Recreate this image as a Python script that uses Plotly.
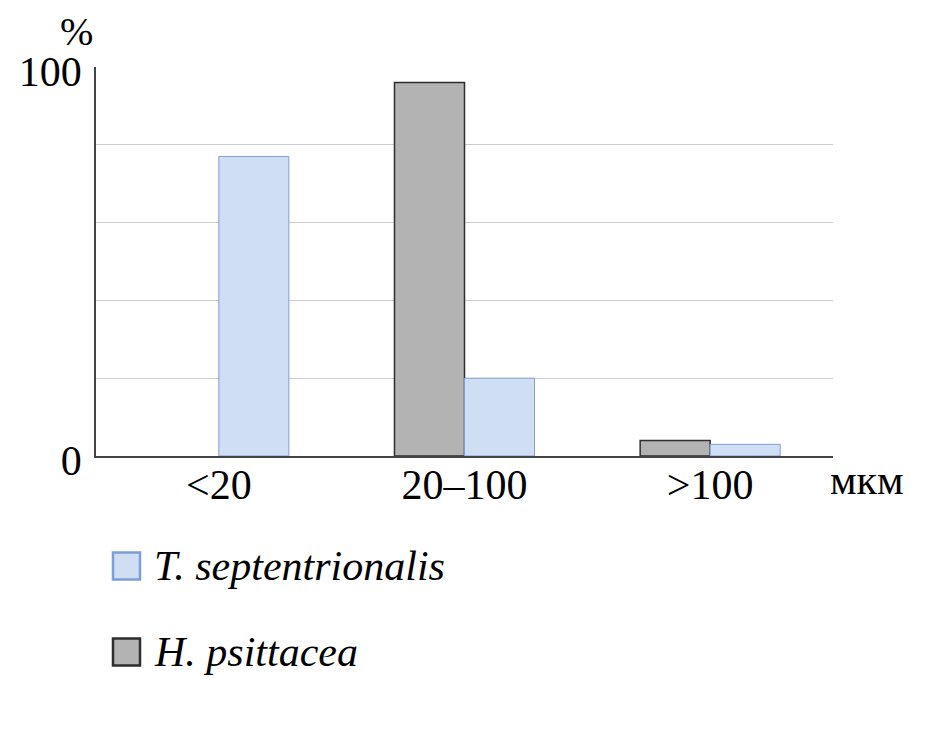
import plotly.graph_objects as go

categories = ["<20", "20\u2013100", ">100"]
h_psittacea = [0, 96, 4]
t_septentrionalis = [77, 20, 3]
ytick_vals = [0, 20, 40, 60, 80, 100]
ytick_text = ["0", "", "", "", "", "100"]
series_names = ["<i>T. septentrionalis</i>", "<i>H. psittacea</i>"]

# page has an 8px body margin, so the figure is shifted; compensate
OFF = 8
W, H = 945 - OFF, 741 - OFF
L, R, T, B = 96 - OFF, 833 - OFF, 67 - OFF, 456 - OFF
FONT = "Liberation Serif, Times New Roman, serif"
FS = 42

fig = go.Figure()
fig.add_trace(go.Bar(x=categories, y=h_psittacea, name="H. psittacea",
                     marker=dict(color="#b3b3b3",
                                 line=dict(color="#2e2e2e",
                                           width=[0 if v == 0 else 1.5 for v in h_psittacea])),
                     showlegend=False))
fig.add_trace(go.Bar(x=categories, y=t_septentrionalis, name="T. septentrionalis",
                     marker=dict(color="#cfdef2", line=dict(color="#7e9fd6", width=1)),
                     showlegend=False))

def px(x):
    return (x - OFF - L) / (R - L)

def py(y):
    return (B - (y - OFF)) / (B - T)

shapes = []
annotations = []
legend_items = [(series_names[0], "#cfdef2", "#7e9fd6", 566),
                (series_names[1], "#b3b3b3", "#2e2e2e", 652)]
for text, fill, line, cy in legend_items:
    shapes.append(dict(type="rect", xref="paper", yref="paper",
                       x0=px(113), x1=px(140), y0=py(cy + 13.5), y1=py(cy - 13.5),
                       fillcolor=fill, line=dict(color=line, width=2.5)))
    annotations.append(dict(text=text, xref="paper", yref="paper", x=px(152), y=py(cy),
                            xanchor="left", yanchor="middle", showarrow=False,
                            font=dict(family=FONT, size=FS, color="black")))

annotations.append(dict(text="%", xref="paper", yref="paper", x=px(76), y=py(OFF),
                        xanchor="center", yanchor="top", showarrow=False, borderpad=0,
                        font=dict(family=FONT, size=40, color="black")))
annotations.append(dict(text="мкм", xref="paper", yref="paper", x=px(867), y=py(480),
                        xanchor="center", yanchor="middle", showarrow=False,
                        font=dict(family=FONT, size=FS, color="black")))

fig.update_layout(
    width=W, height=H,
    margin=dict(l=L, r=W - R, t=T, b=H - B, pad=0),
    paper_bgcolor="white", plot_bgcolor="white",
    barmode="group", bargap=0.43, bargroupgap=0,
    font=dict(family=FONT, size=FS, color="black"),
    shapes=shapes, annotations=annotations,
    xaxis=dict(showline=True, linecolor="#444444", linewidth=1.5, ticks="",
               tickfont=dict(size=FS), showgrid=False, ticklabelstandoff=-9),
    yaxis=dict(range=[0, 100], tickvals=ytick_vals, ticktext=ytick_text,
               showline=True, linecolor="#444444", linewidth=1.5, ticks="",
               showgrid=True, gridcolor="#cccccc", gridwidth=1, zeroline=False,
               tickfont=dict(size=FS), ticklabelstandoff=4, ticklabelshift=4),
)

fig.write_html("out.html")
